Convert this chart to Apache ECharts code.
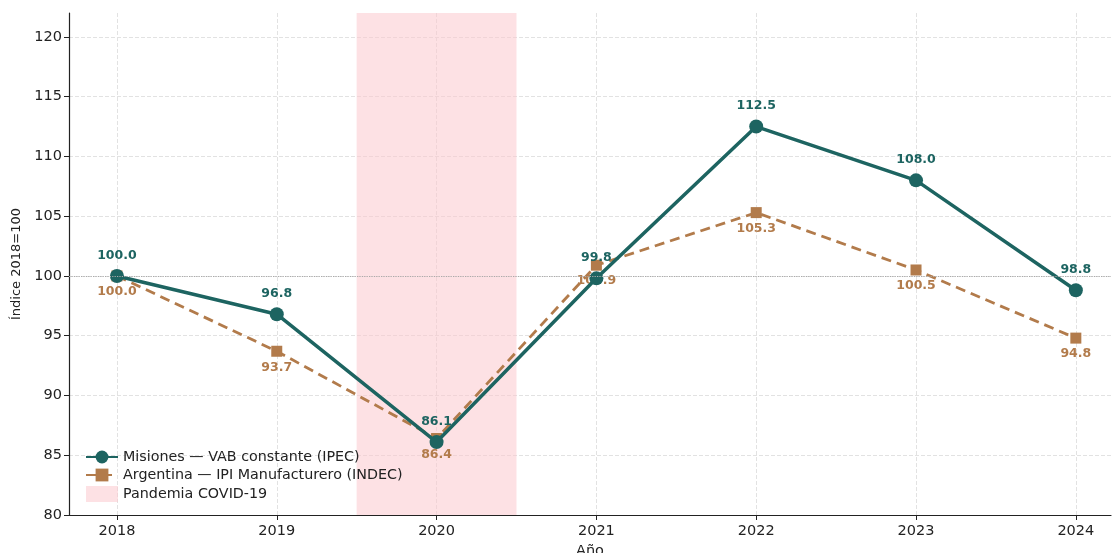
<!DOCTYPE html>
<html><head><meta charset="utf-8">
<script src="https://cdn.jsdelivr.net/npm/echarts@6/dist/echarts.min.js"></script>
<style>html,body{margin:0;padding:0;background:#fff}#c{width:1113px;height:553px}</style>
</head><body><div id="c"></div>
<script>
const years = [2018, 2019, 2020, 2021, 2022, 2023, 2024];
const misiones = [100.0, 96.8, 86.1, 99.8, 112.5, 108.0, 98.8];
const argentina = [100.0, 93.7, 86.4, 100.9, 105.3, 100.5, 94.8];
const covidStart = 2019.5, covidEnd = 2020.5;
const nameMis = 'Misiones — VAB constante (IPEC)';
const nameArg = 'Argentina — IPI Manufacturero (INDEC)';
const nameCovid = 'Pandemia COVID-19';
const teal = '#1d6461', brown = '#b27b4b', pink = 'rgba(252,200,205,0.55)';
const font = 'DejaVu Sans';

const chart = echarts.init(document.getElementById('c'));
chart.setOption({
  animation: false,
  textStyle: {fontFamily: font},
  grid: {left: 69, right: 2, top: 13, bottom: 38, outerBoundsMode: 'none', containLabel: false},
  legend: {
    left: 80, top: 445, orient: 'vertical', itemGap: 4, itemWidth: 32, itemHeight: 16,
    textStyle: {fontFamily: font, fontSize: 14.3, color: '#222'},
    data: [{name: nameMis}, {name: nameArg}, {name: nameCovid, icon: 'rect', itemStyle: {color: pink}}]
  },
  xAxis: {
    type: 'value', min: 2017.7, max: 2024.22, splitNumber: 6,
    name: 'Año', nameLocation: 'middle', nameGap: 28,
    nameTextStyle: {fontFamily: font, fontSize: 14.5, color: '#222'},
    axisLine: {lineStyle: {color: '#222', width: 1.2}},
    axisTick: {lineStyle: {color: '#222'}, length: 5},
    axisLabel: {fontFamily: font, fontSize: 14.5, color: '#222', margin: 9, showMinLabel: false, showMaxLabel: false,
      formatter: v => Number.isInteger(v) ? String(v) : ''},
    splitLine: {show: true, showMinLine: false, showMaxLine: false, lineStyle: {color: '#e2e2e2', type: 'dashed'}}
  },
  yAxis: {
    type: 'value', min: 80, max: 122, interval: 5,
    name: 'Índice 2018=100', nameLocation: 'middle', nameGap: 46,
    nameTextStyle: {fontFamily: font, fontSize: 13, color: '#222', padding: [0, 0, 0, 0]},
    axisLine: {show: true, lineStyle: {color: '#222', width: 1.2}},
    axisTick: {show: true, lineStyle: {color: '#222'}, length: 5},
    axisLabel: {fontFamily: font, fontSize: 14.5, color: '#222', margin: 7, showMaxLabel: false,
      formatter: v => Number.isInteger(v) && v % 5 === 0 ? String(v) : ''},
    splitLine: {show: true, showMaxLine: false, lineStyle: {color: '#e2e2e2', type: 'dashed'}}
  },
  series: [
    {
      name: nameCovid, type: 'line', data: [], itemStyle: {color: pink},
      markArea: {silent: true, itemStyle: {color: pink}, data: [[{xAxis: covidStart}, {xAxis: covidEnd}]]},
      markLine: {silent: true, symbol: 'none', label: {show: false},
        lineStyle: {color: '#aaa', type: 'dotted', width: 1.2}, data: [{yAxis: 100}]}
    },
    {
      name: nameArg, type: 'line', z: 3,
      data: years.map((y, i) => [y, argentina[i]]),
      symbol: 'rect', symbolSize: 11,
      itemStyle: {color: brown},
      lineStyle: {color: brown, width: 2.8, type: [10, 6]},
      label: {show: true, position: 'bottom', distance: 4, color: brown, fontWeight: 'bold', fontSize: 12.5, fontFamily: font,
        formatter: p => p.value[1].toFixed(1)}
    },
    {
      name: nameMis, type: 'line', z: 4,
      data: years.map((y, i) => [y, misiones[i]]),
      symbol: 'circle', symbolSize: 14,
      itemStyle: {color: teal},
      lineStyle: {color: teal, width: 3.5},
      label: {show: true, position: 'top', distance: 7, color: teal, fontWeight: 'bold', fontSize: 12.5, fontFamily: font,
        formatter: p => p.value[1].toFixed(1)}
    }
  ]
});
</script></body></html>
